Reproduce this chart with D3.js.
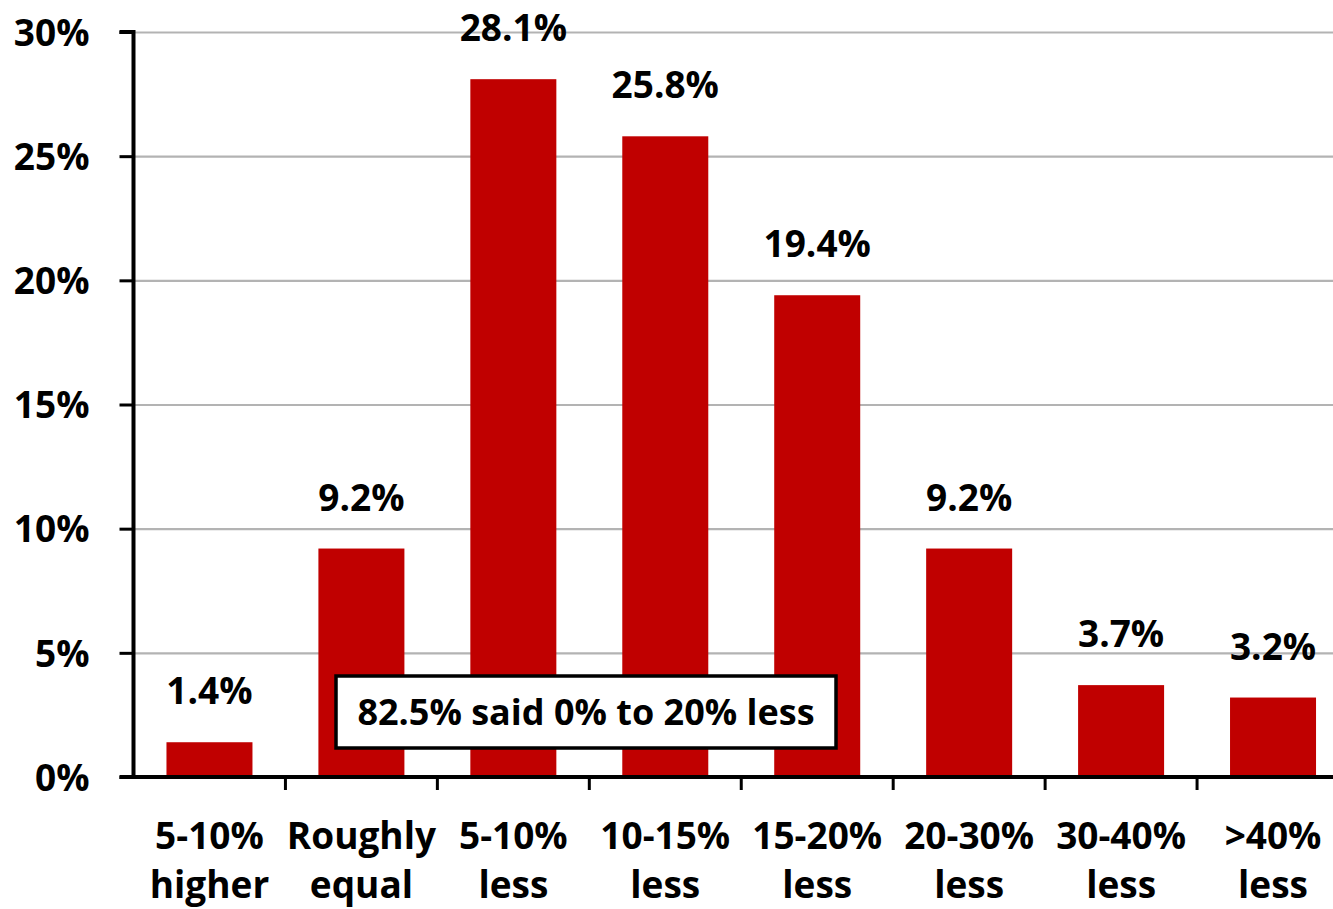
<!DOCTYPE html>
<html>
<head>
<meta charset="utf-8">
<script src="https://cdn.jsdelivr.net/npm/d3@7"></script>
<style>
  html, body { margin: 0; padding: 0; background: #fff; }
  svg { display: block; }
  text { font-family: "Open Sans", Lato, sans-serif; font-weight: 700; fill: #000; }
</style>
</head>
<body>
<svg id="chart" width="1333" height="909"></svg>
<script>
// Survey responses: expected difference, grouped into ranges
const categories = ["5-10% higher", "Roughly equal", "5-10% less", "10-15% less",
                    "15-20% less", "20-30% less", "30-40% less", ">40% less"];
const categoryLines = [["5-10%", "higher"], ["Roughly", "equal"], ["5-10%", "less"],
                       ["10-15%", "less"], ["15-20%", "less"], ["20-30%", "less"],
                       ["30-40%", "less"], [">40%", "less"]];
const shares = [1.4, 9.2, 28.1, 25.8, 19.4, 9.2, 3.7, 3.2];
const yTicks = [0, 5, 10, 15, 20, 25, 30];
// Ranges summed for the callout (roughly equal through 15-20% less)
const calloutCategories = ["Roughly equal", "5-10% less", "10-15% less", "15-20% less"];

const svg = d3.select("#chart");
const W = 1333;
const plot = { left: 133.5, right: 1349, top: 32, bottom: 777 };
const FS = 37;
const FONT = "'Open Sans', Lato, sans-serif";

const x = d3.scaleBand()
  .domain(categories)
  .range([plot.left, plot.right])
  .paddingInner(0.434)
  .paddingOuter(0.217);

const y = d3.scaleLinear()
  .domain([0, 30])
  .range([plot.bottom, plot.top]);

// Gridlines
svg.append("g")
  .attr("transform", `translate(${plot.left},0)`)
  .call(d3.axisLeft(y).tickValues(yTicks.filter(d => d > 0)).tickSize(-(W - plot.left)).tickFormat(""))
  .call(g => g.select(".domain").remove())
  .call(g => g.selectAll("line").attr("stroke", "#b3b3b3").attr("stroke-width", 2.2));

// Bars
svg.append("g")
  .selectAll("rect")
  .data(shares)
  .join("rect")
  .attr("x", (d, i) => x(categories[i]))
  .attr("width", x.bandwidth())
  .attr("y", d => y(d))
  .attr("height", d => y(0) - y(d))
  .attr("fill", "#C00000");

// Value labels
svg.append("g")
  .selectAll("text")
  .data(shares)
  .join("text")
  .attr("x", (d, i) => x(categories[i]) + x.bandwidth() / 2)
  .attr("y", d => y(d) - 38)
  .attr("text-anchor", "middle")
  .attr("font-size", FS)
  .text(d => d.toFixed(1) + "%");

// Y axis
svg.append("g")
  .attr("transform", `translate(${plot.left},0)`)
  .call(d3.axisLeft(y).tickValues(yTicks).tickSize(14).tickPadding(30)
    .tickFormat(d => d + "%"))
  .call(g => g.select(".domain").attr("stroke", "#000").attr("stroke-width", 4)
    .attr("d", `M-14,${plot.top}H0V${plot.bottom}`))
  .call(g => g.selectAll(".tick line").attr("stroke", "#000").attr("stroke-width", 3))
  .call(g => g.selectAll(".tick text")
    .attr("font-size", FS).attr("dy", "0.36em")
    .style("font-family", FONT).style("font-weight", 700));

// X axis
const step = x.step();
const xAxis = svg.append("g")
  .attr("transform", `translate(0,${plot.bottom})`)
  .call(d3.axisBottom(x).tickSize(13).tickFormat(""));
xAxis.select(".domain").attr("stroke", "#000").attr("stroke-width", 4)
  .attr("d", `M${plot.left - 14},0H${plot.right}`);
xAxis.selectAll(".tick line")
  .attr("stroke", "#000").attr("stroke-width", 3)
  .attr("transform", `translate(${step / 2},0)`);

// Category labels (two lines each)
const catLabels = svg.append("g")
  .selectAll("text")
  .data(categoryLines)
  .join("text")
  .attr("text-anchor", "middle")
  .attr("font-size", FS)
  .attr("transform", (d, i) => `translate(${x(categories[i]) + x.bandwidth() / 2},${plot.bottom + 72})`);
catLabels.selectAll("tspan")
  .data(d => d)
  .join("tspan")
  .attr("x", 0)
  .attr("y", (d, j) => j * 49)
  .text(d => d);

// Callout box
const calloutTotal = d3.sum(calloutCategories, c => shares[categories.indexOf(c)]);
const box = { x: 336, y: 676, w: 500, h: 72 };
svg.append("rect")
  .attr("x", box.x).attr("y", box.y)
  .attr("width", box.w).attr("height", box.h)
  .attr("fill", "#fff").attr("stroke", "#000").attr("stroke-width", 3.5);
svg.append("text")
  .attr("x", box.x + box.w / 2)
  .attr("y", box.y + 49)
  .attr("text-anchor", "middle")
  .attr("font-size", 36)
  .text(`${calloutTotal.toFixed(1)}% said 0% to 20% less`);
</script>
</body>
</html>
